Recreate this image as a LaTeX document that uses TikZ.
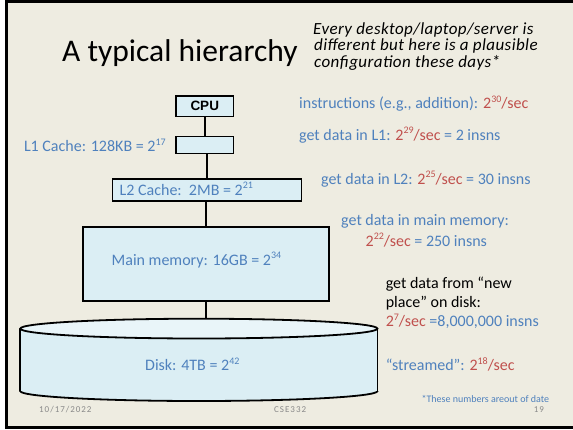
\documentclass[tikz,border=0pt]{standalone}
\usepackage{fontspec}
\setmainfont{Carlito}
\newfontfamily\boxfont{Liberation Sans}
\definecolor{slidebg}{RGB}{238,236,225}
\definecolor{boxfill}{RGB}{219,238,244}
\definecolor{diskend}{RGB}{233,245,249}
\definecolor{accblue}{RGB}{79,129,189}
\definecolor{accred}{RGB}{192,80,77}
\definecolor{footgray}{RGB}{137,137,137}
\newcommand\pw[1]{\raisebox{0.38em}{\fontsize{10}{10}\selectfont #1}}
\newcommand\rd[1]{{\color{accred}#1}}
\begin{document}
\begin{tikzpicture}[x=1pt,y=-1pt,
  box/.style={draw=black, line width=1.8pt, fill=boxfill, inner sep=0pt},
  link/.style={line width=1.8pt},
  txt/.style={anchor=base west, inner sep=0pt, font=\fontsize{16}{19}\selectfont, text=accblue},
  blk/.style={txt, text=black},
  ital/.style={anchor=base west, inner sep=0pt, font=\fontsize{17}{17}\selectfont\itshape\addfontfeature{LetterSpace=2.5}, text=black},
  foot/.style={anchor=base west, inner sep=0pt, font=\fontsize{9}{10}\selectfont\addfontfeature{LetterSpace=11}, text=footgray}]
\useasboundingbox (0,0) rectangle (573,429);
% slide frame and background
\fill[white] (0,0) rectangle (573,429);
\fill[black] (5,0) rectangle (573,429);
\fill[slidebg] (8,3) rectangle (573,426);

% title and remark
\node[anchor=base west, inner sep=0pt, font=\fontsize{31.5}{36}\selectfont] (title) at (62,61.7) {A typical hierarchy};
\node[ital] (rem1) at (313,34.5) {Every desktop/laptop/server is};
\node[ital] (rem2) at (314,50.8) {different but here is a plausible};
\node[ital] (rem3) at (314,67.1) {configuration these days*};

% memory levels
\node[box, minimum width=57.5pt, minimum height=20.5pt, font=\fontsize{13.5}{15}\selectfont\boxfont\bfseries] (cpu) at (204.75,106.25) {CPU};
\node[box, minimum width=57.5pt, minimum height=17pt] (l1) at (204.75,145) {};
\node[box, minimum width=189pt, minimum height=22.4pt] (l2) at (207,190) {};
\node[box, minimum width=246pt, minimum height=74pt] (mm) at (206,264) {};

% disk drawn as a cylinder
\fill[boxfill] (20.3,328.6) rectangle (377.4,391.1);
\fill[boxfill] (198.85,391.1) ellipse [x radius=178.55, y radius=9.9];
\begin{scope}
  \clip (0,391.1) rectangle (573,410);
  \draw[line width=1.8pt] (198.85,391.1) ellipse [x radius=178.55, y radius=9.9];
\end{scope}
\draw[line width=1.8pt] (20.3,328.6) -- (20.3,391.1);
\draw[line width=1.8pt] (377.4,328.6) -- (377.4,391.1);
\draw[line width=1.8pt, fill=diskend] (198.85,328.6) ellipse [x radius=178.55, y radius=9.9];
\coordinate (disk) at (206,318.7);

% connectors
\draw[link] (cpu.south) -- (l1.north);
\draw[link] (l1.south -| l2.north) -- (l2.north);
\draw[link] (l2.south -| mm.north) -- (mm.north);
\draw[link] (mm.south) -- (disk);

% level labels
\node[txt] (l1lbl) at (23.8,151.5) {L1 Cache: 128KB = 2\pw{17}};
\node[txt] (l2lbl) at (119.5,195) {L2 Cache:\ \ 2MB = 2\pw{21}};
\node[txt] (mmlbl) at (111.5,265) {Main memory: 16GB = 2\pw{34}};
\node[txt] (dklbl) at (145,370.7) {Disk: 4TB = 2\pw{42}};

% access rates
\node[txt] (r0) at (299,108.5) {instructions (e.g., addition): \rd{2\pw{30}/sec}};
\node[txt] (r1) at (299,140) {get data in L1: \rd{2\pw{29}/sec} = 2 insns};
\node[txt] (r2) at (321,184) {get data in L2: \rd{2\pw{25}/sec} = 30 insns};
\node[txt] (r3a) at (341,225.7) {get data in main memory:};
\node[txt] (r3b) at (365.5,246) {\rd{2\pw{22}/sec} = 250 insns};
\node[blk] (r4a) at (385.6,288.3) {get data from “new};
\node[blk] (r4b) at (385.6,307.7) {place” on disk:};
\node[txt] (r4c) at (385.6,326.7) {\rd{2\pw{7}/sec} =8,000,000 insns};
\node[txt] (r5) at (385.6,370.7) {“streamed”: \rd{2\pw{18}/sec}};

% footnote and footer
\node[anchor=base west, inner sep=0pt, font=\fontsize{10}{11}\selectfont, text=accblue] (note) at (421.4,402) {*These numbers areout of date};
\node[foot] (date) at (39,412.3) {10/17/2022};
\node[foot] (course) at (274,412.3) {CSE332};
\node[foot] (page) at (533.6,412.3) {19};
\end{tikzpicture}
\end{document}
